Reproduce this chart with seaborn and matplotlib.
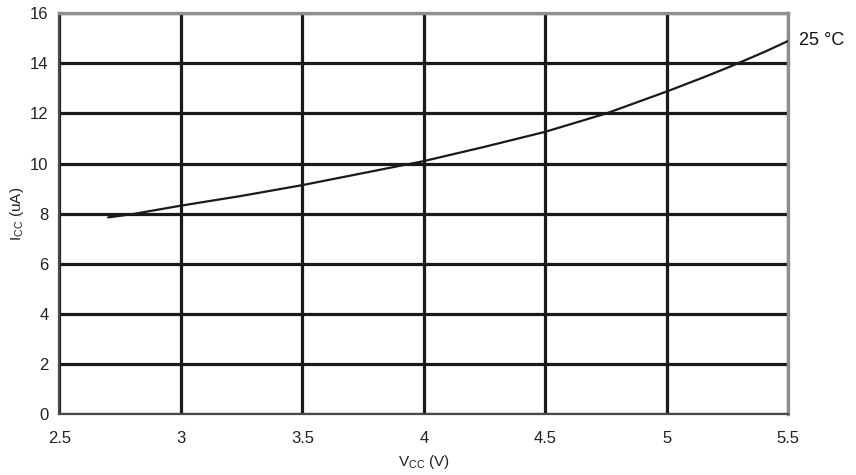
import matplotlib.pyplot as plt
import seaborn as sns
import pandas as pd

# Supply current vs supply voltage.
vcc = [2.7, 2.8, 3.0, 3.25, 3.5, 3.75, 4.0, 4.25, 4.5, 4.75, 5.0, 5.15, 5.25, 5.4, 5.5]
icc = [7.85, 7.98, 8.32, 8.71, 9.14, 9.62, 10.1, 10.67, 11.27, 12.0, 12.88, 13.44, 13.83, 14.45, 14.9]
x_ticks = [2.5, 3, 3.5, 4, 4.5, 5, 5.5]
x_labels = ["2.5", "3", "3.5", "4", "4.5", "5", "5.5"]
y_ticks = [0, 2, 4, 6, 8, 10, 12, 14, 16]
curve_label = "25 °C"

df = pd.DataFrame({"Vcc": vcc, "Icc": icc})

sns.set_style("white")
plt.rcParams["font.family"] = ["Liberation Sans", "DejaVu Sans"]
plt.rcParams["mathtext.fontset"] = "custom"
plt.rcParams["mathtext.rm"] = "Liberation Sans"
plt.rcParams["mathtext.it"] = "Liberation Sans"

fig = plt.figure(figsize=(8.56, 4.75), dpi=100)
ax = fig.add_axes([0.0695, 0.1284, 0.8515, 0.8436])

sns.lineplot(data=df, x="Vcc", y="Icc", color="#1a1a1a", linewidth=1.6, ax=ax, zorder=3)

ax.set_xlim(2.5, 5.5)
ax.set_ylim(0, 16)
ax.set_xticks(x_ticks)
ax.set_xticklabels(x_labels)
ax.set_yticks(y_ticks)

ax.grid(True, color="#1a1a1a", linewidth=2.3)
ax.set_axisbelow(True)

for side in ["top", "right"]:
    ax.spines[side].set_color("#8a8f94")
    ax.spines[side].set_linewidth(2.4)
for side in ["left", "bottom"]:
    ax.spines[side].set_color("#4a4a4a")
    ax.spines[side].set_linewidth(1.6)

ax.tick_params(axis="both", direction="out", length=5, width=1.2, color="#444444",
               labelsize=12, labelcolor="#222222", pad=7)
ax.tick_params(axis="y", pad=3)

ax.set_xlabel(r"V$_{\rm CC}$ (V)", fontsize=11, color="#222222", labelpad=5)
ax.set_ylabel(r"I$_{\rm CC}$ (uA)", fontsize=11, color="#222222", labelpad=3)

ax.text(1.015, icc[-1] / 16, curve_label, transform=ax.transAxes,
        fontsize=13, color="#111111", va="center", ha="left")

fig.savefig("out.png", dpi=100)
